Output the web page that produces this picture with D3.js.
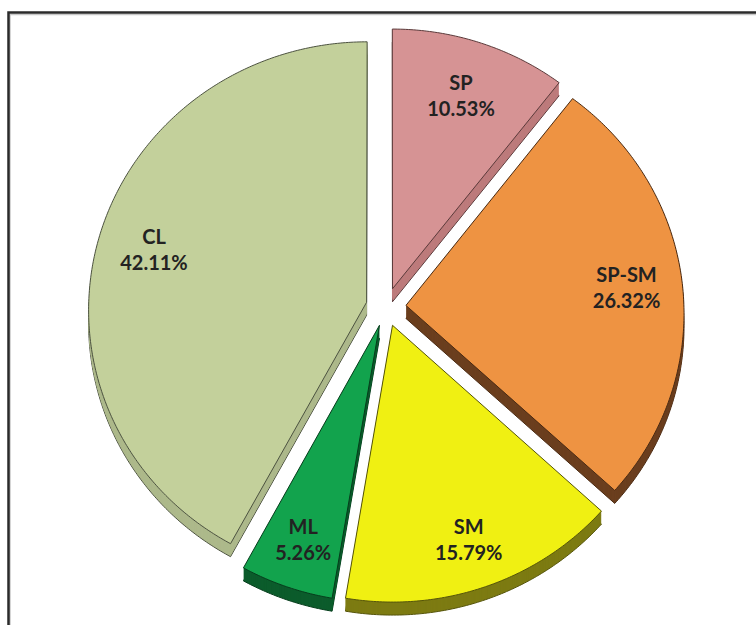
<!DOCTYPE html>
<html>
<head>
<meta charset="utf-8">
<script src="https://cdn.jsdelivr.net/npm/d3@7"></script>
<style>
  body { margin: 0; background: #fff; }
  svg { display: block; }
</style>
</head>
<body>
<svg id="chart" width="756" height="625"></svg>
<script>
////////////////////////////////////////////////////////////////////////////////
// Data
var categories = ["SP", "SP-SM", "SM", "ML", "CL"]
var percents = [10.53, 26.32, 15.79, 5.26, 42.11]
var percentLabels = ["10.53%", "26.32%", "15.79%", "5.26%", "42.11%"]

// Styles
var faceColors = ["#d69394", "#ee9342", "#f0f012", "#12a34d", "#c3d09b"]
var sideColors = ["#bd7b7c", "#6b3f1f", "#7d7b12", "#0c5c2c", "#adb98b"]
var edgeColors = ["#5a3a3a", "#4a2a12", "#55540a", "#063d1c", "#4c5240"]

// Layout of the tilted pie
var cx = 386, cy = 307
var rx = 278, ry = 268
var persp = 0.028
var explode = 0.072
var depth = 13
var labelR = 0.8
var labelPersp = 0.06

// flat pie coords (unit radius) -> screen, with a little perspective
function project(wx, wy, q) {
  var w = 1 - (q == null ? persp : q) * wy
  return [cx + rx * wx / w, cy + ry * wy / w]
}

var pie = d3.pie().sort(null).value(d => d)
var arcs = pie(percents)

function slicePoints(d) {
  var m = (d.startAngle + d.endAngle) / 2
  var ox = explode * Math.sin(m)
  var oy = -explode * Math.cos(m)
  var pts = [project(ox, oy)]
  var n = Math.max(4, Math.ceil((d.endAngle - d.startAngle) / 0.01))
  d3.range(n + 1).forEach(function(i) {
    var a = d.startAngle + (d.endAngle - d.startAngle) * i / n
    pts.push(project(ox + Math.sin(a), oy - Math.cos(a)))
  })
  return pts
}

var line = d3.line().curve(d3.curveLinearClosed)
var svg = d3.select("#chart")

// frame
svg.append("rect")
  .attr("x", 10).attr("y", 14.5)
  .attr("width", 800).attr("height", 700)
  .attr("fill", "none").attr("stroke", "#c8c8c8").attr("stroke-width", 1.5)
svg.append("rect")
  .attr("x", 8.5).attr("y", 12.5)
  .attr("width", 800).attr("height", 700)
  .attr("fill", "none").attr("stroke", "#2a2a2a").attr("stroke-width", 2.5)

// sides (stacked copies pushed down)
var sides = svg.append("g")
arcs.forEach(function(d, i) {
  var pts = slicePoints(d)
  for (var k = depth; k >= 1; k--) {
    sides.append("path")
      .attr("d", line(pts))
      .attr("transform", "translate(0," + k + ")")
      .attr("fill", sideColors[i])
      .attr("stroke", k == depth ? edgeColors[i] : "none")
      .attr("stroke-width", 1)
  }
})

// top faces
svg.append("g").selectAll("path")
  .data(arcs)
  .join("path")
  .attr("d", d => line(slicePoints(d)))
  .attr("fill", (d, i) => faceColors[i])
  .attr("stroke", (d, i) => edgeColors[i])
  .attr("stroke-width", 1)

// labels
var labelG = svg.append("g")
  .attr("font-family", "Lato, 'Open Sans', sans-serif")
  .attr("font-weight", 700)
  .attr("font-size", 20)
  .attr("fill", "#222")
  .attr("text-anchor", "middle")

arcs.forEach(function(d, i) {
  var m = (d.startAngle + d.endAngle) / 2
  var r = explode + labelR
  var p = project(r * Math.sin(m), -r * Math.cos(m), labelPersp)
  labelG.append("text")
    .attr("x", p[0]).attr("y", p[1] - 6)
    .text(categories[i])
  labelG.append("text")
    .attr("x", p[0]).attr("y", p[1] + 20)
    .text(percentLabels[i])
})
</script>
</body>
</html>
